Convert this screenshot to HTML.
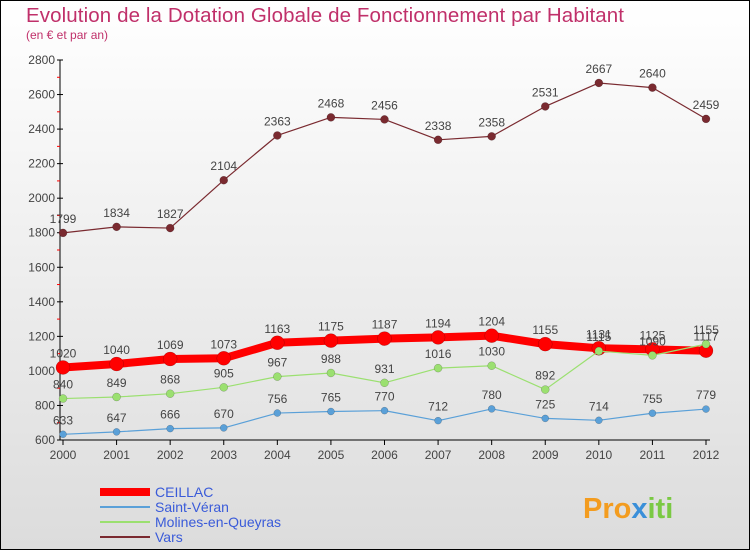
<!DOCTYPE html>
<html><head><meta charset="utf-8"><style>
body{margin:0}
svg text{font-family:"Liberation Sans",sans-serif}
</style></head><body>
<svg id="c" width="750" height="550" xmlns="http://www.w3.org/2000/svg">
<defs>
<linearGradient id="bg" x1="0" y1="0" x2="0" y2="1"><stop offset="0" stop-color="#ffffff"/><stop offset="1" stop-color="#dcdcdc"/></linearGradient>
</defs>
<rect x="0.5" y="0.5" width="749" height="549" fill="url(#bg)" stroke="#000"/>
<text x="26" y="22" font-size="20.5" fill="#c0306a" textLength="598">Evolution de la Dotation Globale de Fonctionnement par Habitant</text>
<text x="26" y="39" font-size="12" fill="#c0306a">(en € et par an)</text>
<g id="axes"></g>
<g id="series"></g>
<g id="legend" font-size="14">
<line x1="100" y1="492" x2="150" y2="492" stroke="#ff0000" stroke-width="8"/>
<text x="155" y="497" fill="#3a5bd9">CEILLAC</text>
<line x1="100" y1="507" x2="150" y2="507" stroke="#5aa0d8" stroke-width="2"/>
<text x="155" y="512" fill="#3a5bd9">Saint-Véran</text>
<line x1="100" y1="522" x2="150" y2="522" stroke="#9be070" stroke-width="2"/>
<text x="155" y="527" fill="#3a5bd9">Molines-en-Queyras</text>
<line x1="100" y1="537" x2="150" y2="537" stroke="#7a2a30" stroke-width="2"/>
<text x="155" y="542" fill="#3a5bd9">Vars</text>
</g>
<text x="583" y="518" font-size="29" font-weight="bold" fill="#f39c1f">Pro<tspan fill="#3a8fd9">x</tspan><tspan fill="#7ac943">iti</tspan></text>
</svg>
<script>
const years=[2000,2001,2002,2003,2004,2005,2006,2007,2008,2009,2010,2011,2012];
const yTicks=[600,800,1000,1200,1400,1600,1800,2000,2200,2400,2600,2800];
const ceillac=[1020,1040,1069,1073,1163,1175,1187,1194,1204,1155,1131,1125,1117];
const saintVeran=[633,647,666,670,756,765,770,712,780,725,714,755,779];
const molines=[840,849,868,905,967,988,931,1016,1030,892,1115,1090,1155];
const vars=[1799,1834,1827,2104,2363,2468,2456,2338,2358,2531,2667,2640,2459];
const NS="http://www.w3.org/2000/svg";
const X=i=>63+i*(706-63)/12;
const Y=v=>440-(v-600)*(380/2200);
function mk(t,a,p){const e=document.createElementNS(NS,t);for(const k in a)e.setAttribute(k,a[k]);p.appendChild(e);return e;}
const ax=document.getElementById('axes'),sg=document.getElementById('series');
const yl=mk('line',{x1:60,y1:60,x2:60,y2:440,stroke:'#000'},ax);


const xl=mk('line',{x1:60,y1:440,x2:710,y2:440,stroke:'#000'},ax);


yTicks.forEach((v,i)=>{
 mk('line',{x1:57,y1:Y(v),x2:63,y2:Y(v),stroke:'#000'},ax);
 if(i<yTicks.length-1)mk('line',{x1:57,y1:Y(v+100),x2:60,y2:Y(v+100),stroke:'#f00'},ax);
 const t=mk('text',{x:55,y:Y(v)+4,'text-anchor':'end','font-size':12,fill:'#444'},ax);
 t.textContent=v;
 
 
});
years.forEach((y,i)=>{
 mk('line',{x1:X(i),y1:440,x2:X(i),y2:445,stroke:'#000'},ax);
 const t=mk('text',{x:X(i),y:459,'text-anchor':'middle','font-size':12,fill:'#444'},ax);
 t.textContent=y;
 
 
});
function series(vals,color,lw,r,name){
 const g=mk('g',{},sg);
 
 
 const p=mk('polyline',{points:vals.map((v,i)=>X(i)+','+Y(v)).join(' '),fill:'none',stroke:color,'stroke-width':lw,'stroke-linejoin':'round'},g);
 
 
 vals.forEach((v,i)=>{
  const c=mk('circle',{cx:X(i),cy:Y(v),r:r,fill:color,stroke:'rgba(0,0,0,0.3)','stroke-width':0.5},g);
  
  
  const t=mk('text',{x:X(i),y:Y(v)-10,'text-anchor':'middle','font-size':12,fill:'#444'},g);
  t.textContent=v;
  
  
 });
}
series(vars,'#7a2a30',1.2,4,'vars');
series(saintVeran,'#5aa0d8',1.2,3.5,'saint-veran');
series(ceillac,'#ff0000',8,7,'ceillac');
series(molines,'#9be070',1.2,4,'molines');
</script>
</body></html>
